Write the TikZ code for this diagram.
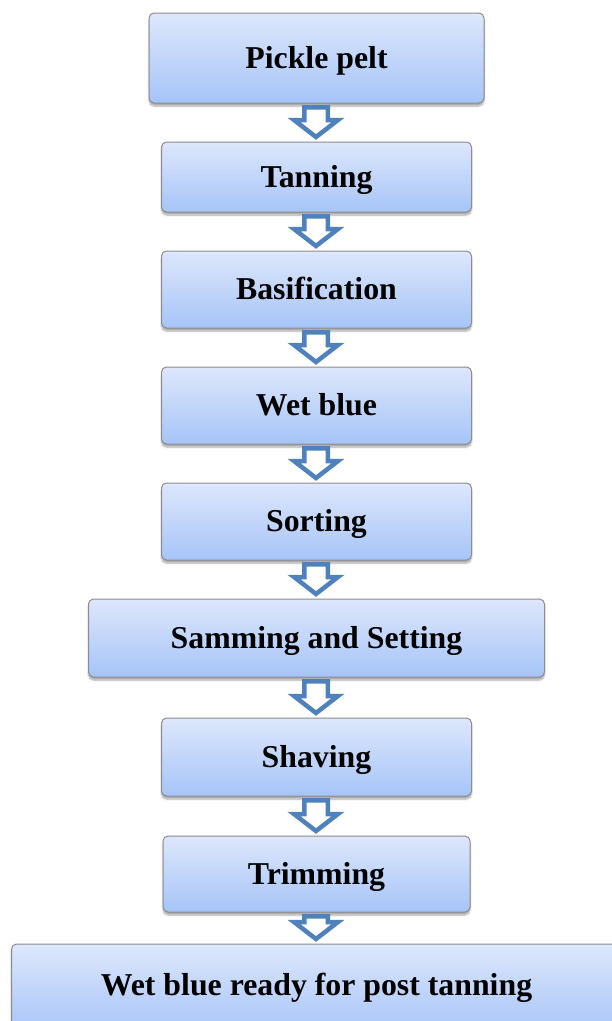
\documentclass[tikz,border=0pt]{standalone}
\usepackage{fontspec}
\setmainfont{Liberation Serif}
\usepackage{tikz}
\usetikzlibrary{positioning,calc,shadows.blur}

\definecolor{boxtop}{RGB}{221,231,252}
\definecolor{boxbottom}{RGB}{166,196,248}
\definecolor{boxline}{RGB}{140,140,145}
\definecolor{arrowblue}{RGB}{79,129,189}

\begin{document}
\begin{tikzpicture}[x=1pt,y=1pt,
		stepbox/.style={rectangle, rounded corners=5pt, draw=boxline, line width=1pt, outer sep=0pt,
			top color=boxtop, bottom color=boxbottom, minimum width=310pt, minimum height=77pt,
			inner sep=0pt, text height=26pt, text depth=6pt, font=\fontsize{31.8}{38}\selectfont\bfseries,
			blur shadow={shadow xshift=0pt, shadow yshift=-3pt, shadow blur steps=6, shadow opacity=35}},
		hollowarrow/.style={draw=arrowblue, fill=white, line width=4.5pt, line join=miter}]
		\useasboundingbox (0,0) rectangle (612,-1021);

		% Define nodes
		\node[stepbox, minimum width=335pt, minimum height=90pt] (pickle) at (316.5,-58) {Pickle pelt};
		\node[stepbox, minimum height=70pt, below=39pt of pickle] (tanning) {Tanning};
		\node[stepbox, below=39pt of tanning] (basification) {Basification};
		\node[stepbox, below=39pt of basification] (wetblue) {Wet blue};
		\node[stepbox, below=39pt of wetblue] (sorting) {Sorting};
		\node[stepbox, minimum width=456pt, minimum height=78pt, below=39pt of sorting] (samming) {Samming and Setting};
		\node[stepbox, minimum height=78pt, below=41pt of samming] (shaving) {Shaving};
		\node[stepbox, minimum width=307pt, minimum height=76pt, below=40pt of shaving] (trimming) {Trimming};
		\node[stepbox, minimum width=610pt, minimum height=90pt, below=32pt of trimming] (ready) {\raisebox{4pt}{Wet blue ready for post tanning}};

		% Connect the nodes
		\foreach \a/\b in {pickle/tanning, tanning/basification, basification/wetblue,
				wetblue/sorting, sorting/samming, samming/shaving, shaving/trimming, trimming/ready}
			\draw[hollowarrow] let \p1=(\a.south), \p2=(\b.north) in
				(316pt-11.75pt,\y1-4.25pt) -- (316pt+11.75pt,\y1-4.25pt) -- (316pt+11.75pt,\y2+22pt)
				-- (316pt+22pt,\y2+22pt) -- (316pt,\y2+5pt) -- (316pt-22pt,\y2+22pt)
				-- (316pt-11.75pt,\y2+22pt) -- cycle;
	\end{tikzpicture}
\end{document}
